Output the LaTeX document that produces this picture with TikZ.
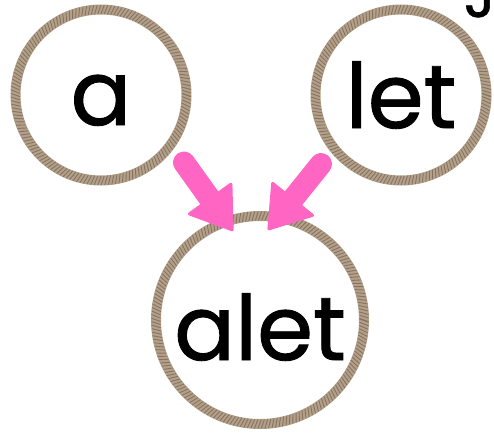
\documentclass[tikz,border=0pt]{standalone}
\usepackage{fontspec}
\setmainfont{Poppins}[FakeBold=1.0]
\usetikzlibrary{arrows.meta,decorations.markings}
\definecolor{ropebase}{RGB}{178,160,138}
\definecolor{ropedark}{RGB}{135,115,95}
\definecolor{arrowpink}{RGB}{255,102,196}
\tikzset{
  rope/.style={circle, draw=ropebase, line width=10pt, inner sep=0pt,
    font=\fontsize{90}{90}\selectfont, text=black,
    postaction={decorate, decoration={markings,
      mark=between positions 0 and 1 step 3.4pt with {\draw[ropedark, line width=0.9pt] (-1.6pt,-4.5pt) -- (1.6pt,4.5pt);}}}},
  pinkarrow/.style={arrowpink, line width=22pt, line cap=round,
    -{Triangle[length=42pt, width=56pt, round, line width=3pt]}}
}
\begin{document}
\begin{tikzpicture}[x=1pt,y=-1pt]
\useasboundingbox (0,0) rectangle (494,445);
\node[rope, minimum size=171pt, text height=60pt, text depth=0pt] (a) at (101,95) {a};
\node[rope, minimum size=171pt, text height=66pt, text depth=0pt] (let) at (401,95) {let};
\node[rope, minimum size=208pt, text height=80pt, text depth=0pt] (alet) at (260,320) {alet};
\node[font=\fontsize{60}{60}\selectfont, anchor=base east, inner sep=0pt] (j) at (496,17) {J};
\coordinate (as) at (184,162.5);
\coordinate (ae) at (233,231);
\coordinate (ls) at (321,164);
\coordinate (le) at (268,230);
\draw[pinkarrow] (as) -- (ae);
\draw[pinkarrow] (ls) -- (le);
\end{tikzpicture}
\end{document}
